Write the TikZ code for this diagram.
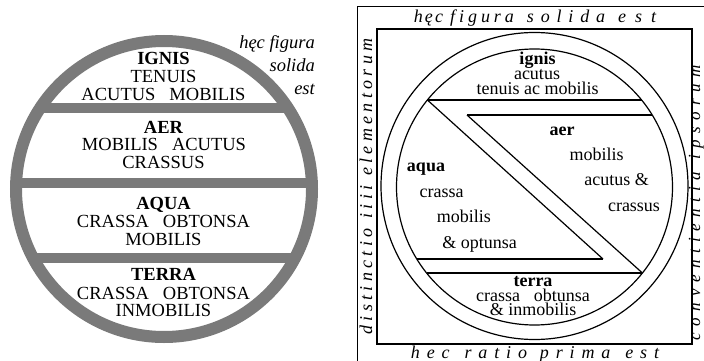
\documentclass[tikz,border=0pt]{standalone}
\usepackage{fontspec}
\setmainfont{Liberation Serif}
\definecolor{ringgray}{RGB}{122,122,122}
\newcommand{\lsp}[2]{{\addfontfeatures{LetterSpace=#1}#2}}
\begin{document}
\begin{tikzpicture}[x=1pt,y=-1pt,
  capt/.style={anchor=base,inner sep=0pt,font=\fontsize{18.5}{18}\selectfont},
  capb/.style={anchor=base,inner sep=0pt,font=\fontsize{18.5}{18}\selectfont\bfseries},
  lit/.style={anchor=base east,inner sep=0pt,font=\fontsize{18.5}{18}\selectfont\itshape},
  rtxt/.style={anchor=base,inner sep=0pt,font=\fontsize{18}{18}\selectfont},
  rbold/.style={anchor=base,inner sep=0pt,font=\fontsize{18}{18}\selectfont\bfseries},
  bord/.style={anchor=base,inner sep=0pt,font=\fontsize{18}{18}\selectfont\itshape},
  bordr/.style={anchor=base,inner sep=0pt,font=\fontsize{17}{17}\selectfont\itshape},
  thinline/.style={line width=1.2pt,black},
  ring/.style={line width=12pt,ringgray}
]
\useasboundingbox (0,0) rectangle (704,361);

% ---------------- left figure ----------------
\coordinate (LC) at (164,189);
\draw[ring] (LC) circle (148pt);
\begin{scope}
  \clip (LC) circle (150pt);
  \fill[ringgray] (0,103) rectangle (340,113);
  \fill[ringgray] (0,177.5) rectangle (340,188);
  \fill[ringgray] (0,253) rectangle (340,263);
\end{scope}

\node[capb] (ig)  at (163.5,65)   {IGNIS};
\node[capt] (ig2) at (163.5,82.3) {TENUIS};
\node[capt] (ig3) at (163.5,100)  {ACUTUS\hspace{14pt}MOBILIS};
\node[capb] (ae)  at (163.5,133)  {AER};
\node[capt] (ae2) at (164,150.7)  {MOBILIS\hspace{14pt}ACUTUS};
\node[capt] (ae3) at (163.5,168)  {CRASSUS};
\node[capb] (aq)  at (163.5,209)  {AQUA};
\node[capt] (aq2) at (163.5,227.7){CRASSA\hspace{14pt}OBTONSA};
\node[capt] (aq3) at (163.5,245.7){MOBILIS};
\node[capb] (te)  at (163.5,280.7){TERRA};
\node[capt] (te2) at (163.5,299)  {CRASSA\hspace{14pt}OBTONSA};
\node[capt] (te3) at (163.5,316.7){INMOBILIS};

\node[lit] (h1) at (315,48.3) {hęc figura};
\node[lit] (h2) at (315,71.7) {solida};
\node[lit] (h3) at (315,94)   {est};

% ---------------- right figure ----------------
\draw[line width=1pt] (357,362) -- (357,7) -- (705,7);
\draw[thinline] (377,29) rectangle (692,344);
\coordinate (RC) at (534.5,187);
\draw[thinline] (534.5,186) circle (153.5pt);
\draw[thinline] (RC) circle (138pt);

\coordinate (p1) at (427.4,100);
\coordinate (p2) at (641.6,100);
\coordinate (p3) at (467,115);
\coordinate (p4) at (652.2,115);
\coordinate (p5) at (416.8,259);
\coordinate (p6) at (603,259);
\coordinate (p7) at (426.6,273);
\coordinate (p8) at (642.4,273);
\draw[thinline] (p1) -- (p2);
\draw[thinline] (p3) -- (p4);
\draw[thinline] (p1) -- (p6);
\draw[thinline] (p3) -- (p8);
\draw[thinline] (p5) -- (p6);
\draw[thinline] (p7) -- (p8);

\node[rbold] (rig)  at (537.5,65)   {ignis};
\node[rtxt]  (rig2) at (537,80)     {acutus};
\node[rtxt]  (rig3) at (537.5,94)   {tenuis ac mobilis};
\node[rbold] (rae)  at (562,135)    {aer};
\node[rtxt]  (rae2) at (596.7,160.7){mobilis};
\node[rtxt]  (rae3) at (616.7,185)  {acutus \&};
\node[rtxt]  (rae4) at (634,211.7)  {crassus};
\node[rbold] (raq)  at (426,171.7)  {aqua};
\node[rtxt]  (raq2) at (441.7,197.3){crassa};
\node[rtxt]  (raq3) at (463.8,222.7){mobilis};
\node[rtxt]  (raq4) at (479.5,248.3){\& optunsa};
\node[rbold] (rte)  at (533,286.7)  {terra};
\node[rtxt]  (rte2) at (533,301.7)  {crassa\hspace{14pt}obtunsa};
\node[rtxt]  (rte3) at (533,315.7)  {\& inmobilis};

\node[bord] (btop) at (535,23)
  {\lsp{12}{hęc}\hspace{7pt}\lsp{22}{figura}\hspace{13pt}\lsp{38}{solida}\hspace{13pt}\lsp{50}{est}};
\node[bord] (bbot) at (535,358)
  {\lsp{38}{hec}\hspace{15pt}\lsp{38}{ratio}\hspace{13pt}\lsp{38}{prima}\hspace{15pt}\lsp{38}{est}};
\node[bord,rotate=90] (bleft) at (372,186.5)
  {\lsp{24}{distinctio}\hspace{10pt}\lsp{24}{iiii}\hspace{10pt}\lsp{24}{elementorum}};
\node[bordr,rotate=90] (bright) at (700,203)
  {\lsp{38}{conventientia}\hspace{12pt}\lsp{38}{ipsorum}};
\end{tikzpicture}
\end{document}
